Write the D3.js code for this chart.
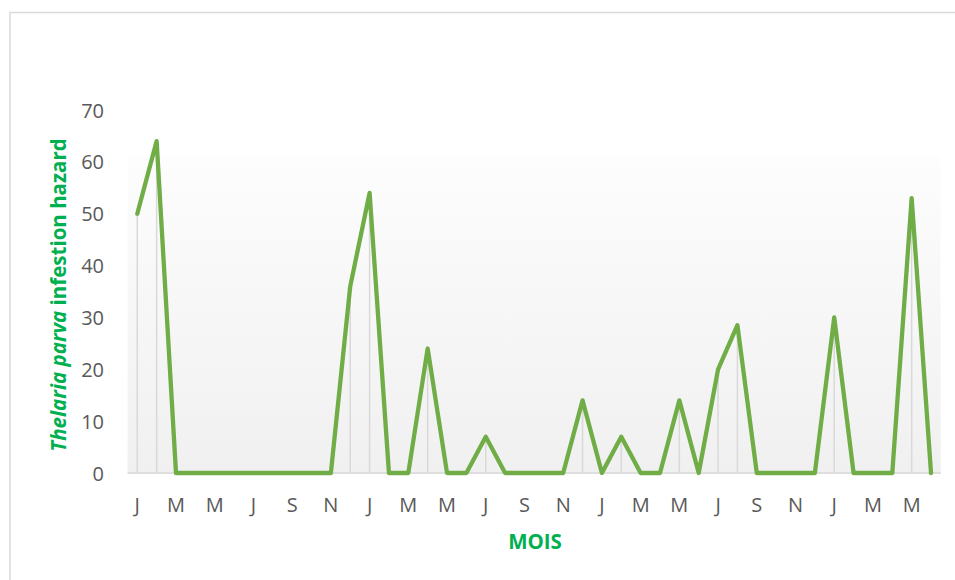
<!DOCTYPE html>
<html>
<head>
<meta charset="utf-8">
<script src="https://cdn.jsdelivr.net/npm/d3@7"></script>
<style>
  html, body { margin: 0; padding: 0; background: #fff; }
  svg { display: block; }
</style>
</head>
<body>
<svg id="chart" width="955" height="580"></svg>
<script>
// ---- data ----
const months = ["J","F","M","A","M","J","J","A","S","O","N","D",
                "J","F","M","A","M","J","J","A","S","O","N","D",
                "J","F","M","A","M","J","J","A","S","O","N","D",
                "J","F","M","A","M","J"];
const hazard = [50, 64, 0, 0, 0, 0, 0, 0, 0, 0, 0, 36,
                54, 0, 0, 24, 0, 0, 7, 0, 0, 0, 0, 14,
                0, 7, 0, 0, 14, 0, 20, 28.5, 0, 0, 0, 0,
                30, 0, 0, 0, 53, 0];
const yTicks = [0, 10, 20, 30, 40, 50, 60, 70];
const xTitle = "MOIS";

// ---- layout ----
const svg = d3.select("#chart");
const plot = { left: 127.6, right: 940.7, top: 110, bottom: 473 };
const idx = months.map((m, i) => i);

const x = d3.scaleBand().domain(idx).range([plot.left, plot.right]).padding(0);
const cx = i => x(i) + x.bandwidth() / 2;
const y = d3.scaleLinear().domain([0, 70]).range([plot.bottom, plot.top]);

// chart frame
svg.append("rect")
  .attr("x", 10).attr("y", 12.5).attr("width", 960).attr("height", 600)
  .attr("fill", "#fff").attr("stroke", "#d9d9d9").attr("stroke-width", 1.5);

// gradient plot area
const defs = svg.append("defs");
const grad = defs.append("linearGradient").attr("id", "pa")
  .attr("x1", 0).attr("y1", 0).attr("x2", 0).attr("y2", 1);
grad.append("stop").attr("offset", "0%").attr("stop-color", "#fdfdfd");
grad.append("stop").attr("offset", "100%").attr("stop-color", "#f0f0f0");

svg.append("rect")
  .attr("x", plot.left).attr("y", 157)
  .attr("width", plot.right - plot.left).attr("height", plot.bottom + 1 - 157)
  .attr("fill", "url(#pa)");

// zero line
svg.append("line")
  .attr("x1", plot.left).attr("x2", plot.right)
  .attr("y1", y(0)).attr("y2", y(0))
  .attr("stroke", "#d9d9d9").attr("stroke-width", 1.5);

// drop lines
svg.append("g").selectAll("line")
  .data(idx.filter(i => hazard[i] > 0))
  .join("line")
  .attr("x1", i => cx(i)).attr("x2", i => cx(i))
  .attr("y1", i => y(hazard[i])).attr("y2", y(0))
  .attr("stroke", "#d9d9d9").attr("stroke-width", 1.5);

// y axis
const yAxis = d3.axisLeft(y).tickValues(yTicks).tickSize(0).tickPadding(0);
const gy = svg.append("g").attr("transform", `translate(104,0)`).call(yAxis);
gy.select(".domain").remove();
gy.selectAll("text")
  .attr("font-family", "'Open Sans', sans-serif")
  .attr("font-size", 20).attr("fill", "#595959")
  .attr("dy", "0.35em");

// x axis (labels every other month)
const xAxis = d3.axisBottom(x)
  .tickValues(idx.filter(i => i % 2 === 0))
  .tickFormat(i => months[i]).tickSize(0).tickPadding(0);
const gx = svg.append("g").attr("transform", `translate(0,${plot.bottom})`).call(xAxis);
gx.select(".domain").remove();
gx.selectAll("text")
  .attr("font-family", "'Open Sans', sans-serif")
  .attr("font-size", 20).attr("fill", "#595959")
  .attr("dy", 0).attr("y", 39);

// line
const line = d3.line().x((d, i) => cx(i)).y(d => y(d));
svg.append("path")
  .datum(hazard)
  .attr("d", line)
  .attr("fill", "none")
  .attr("stroke", "#70ad47").attr("stroke-width", 4.3)
  .attr("stroke-linejoin", "round").attr("stroke-linecap", "round");

// x title
svg.append("text")
  .attr("x", 535).attr("y", 549)
  .attr("text-anchor", "middle")
  .attr("font-family", "'Open Sans', sans-serif")
  .attr("font-weight", "bold").attr("font-size", 20.5)
  .attr("fill", "#00b050")
  .text(xTitle);

// y title
const yt = svg.append("text")
  .attr("transform", "translate(66,295) rotate(-90)")
  .attr("text-anchor", "middle")
  .attr("font-family", "'Open Sans', sans-serif")
  .attr("font-weight", "bold").attr("font-size", 20.5)
  .attr("fill", "#00b050");
yt.append("tspan").attr("font-style", "italic").text("Thelaria parva");
yt.append("tspan").text(" infestion hazard");
</script>
</body>
</html>
